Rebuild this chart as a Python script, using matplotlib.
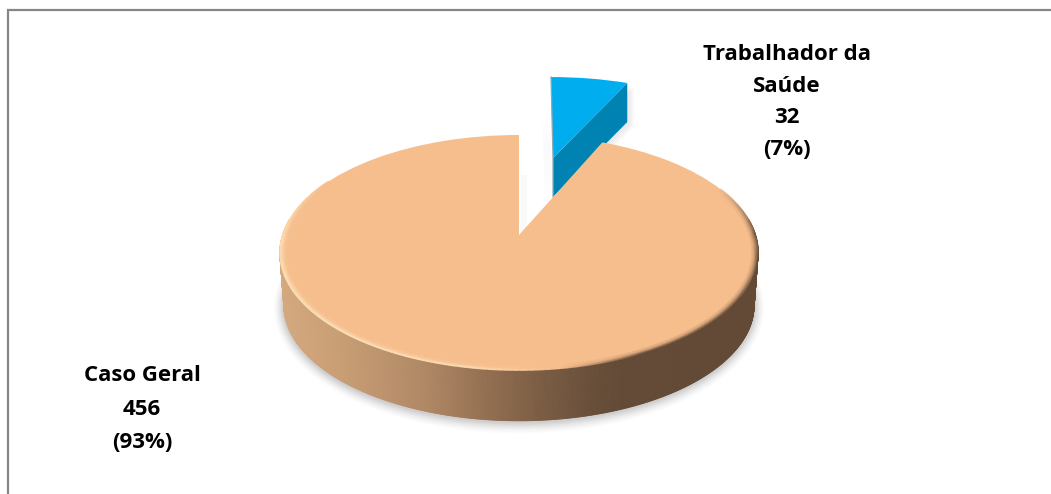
import numpy as np
import matplotlib
matplotlib.use("Agg")
import matplotlib.pyplot as plt
from matplotlib.collections import PolyCollection, LineCollection
from matplotlib.transforms import Transform
from matplotlib.patches import Polygon

categories = ["Caso Geral", "Trabalhador da\nSaúde"]
values = [456, 32]
percents = [93, 7]

W, H = 1051, 494
plt.rcParams['font.family'] = ['Open Sans', 'DejaVu Sans']


class Disc(Transform):
    """Perspective view of the unit pie disc, in pixel coordinates."""
    input_dims = output_dims = 2
    is_separable = False
    has_inverse = False

    def __init__(self, cx, cy, sx, sy, k=0.149, shear=0.0):
        super().__init__()
        self.p = (cx, cy, sx, sy, k, shear)

    def transform_non_affine(self, v):
        v = np.asarray(v, float)
        cx, cy, sx, sy, k, shear = self.p
        d = 1 + k * v[:, 1]
        return np.column_stack([cx + (sx * v[:, 0] + shear * v[:, 1]) / d, cy - sy * v[:, 1] / d])


def pts(tf, theta):
    t = np.radians(theta)
    return tf.transform_non_affine(np.column_stack([np.cos(t), np.sin(t)]))


def soft(ax, poly, dx, dy, n=6, alpha=.05, z=3):
    """Stack of shifted copies that reads as a soft cast shadow."""
    poly = np.asarray(poly, float)
    for i in range(1, n + 1):
        f = i / n
        ax.add_patch(Polygon(poly + [dx * f, dy * f], closed=True, fc='#707070', ec='none',
                             alpha=alpha, zorder=z))


fig = plt.figure(figsize=(W / 100, H / 100), dpi=100, facecolor='white')
ax = fig.add_axes([0, 0, 1, 1])

wedges, _ = ax.pie(values, startangle=90, counterclock=True,
                   colors=['#F6BD8D', '#00ADEF'], radius=1,
                   wedgeprops=dict(linewidth=0))
ax.set_aspect('auto')
ax.set_xlim(0, W)
ax.set_ylim(H, 0)
ax.axis('off')

main_top = Disc(519, 235, 236.5, 114.9)
main_bot = Disc(519, 288, 232.5, 113.0)
blue_top = Disc(553, 158, 216, 93, shear=-2.3)
depth_blue = 39

peach, blue = wedges

# soft shadow under the pie (front half only)
for d, a in zip(np.arange(10, 0, -1.25), [.02, .03, .04, .05, .06, .07, .08, .09]):
    sh = Disc(519, 289, 232.5 + d, 113.0 + d)
    ax.add_patch(Polygon(pts(sh, np.linspace(172, 368, 300)), closed=True, fc='#808080',
                         ec='none', alpha=a, zorder=1))

# side wall: colour runs with the horizontal position
th = np.linspace(172, 368, 600)
top_arc, bot_arc = pts(main_top, th), pts(main_bot, th)
quads = [[top_arc[i], top_arc[i + 1], bot_arc[i + 1], bot_arc[i]] for i in range(len(th) - 1)]
stops_x = [280, 340, 427, 480, 543, 600, 625, 760]
stops = np.array([[213, 169, 127], [200, 158, 117], [175, 135, 100], [150, 113, 83],
                  [122, 92, 67], [102, 77, 56], [98, 74, 54], [98, 74, 54]]) / 255
mid = np.array([q[0][0] for q in quads])
cols = np.column_stack([np.interp(mid, stops_x, stops[:, i]) for i in range(3)])
ax.add_collection(PolyCollection(quads, facecolors=cols, edgecolors=cols, linewidths=.6, zorder=2))

# blue slice: cast shadow, cut wall, then top face
a0, a1 = blue.theta1, blue.theta2
corner, top_left = pts(blue_top, [a0, a1])
apex = blue_top.transform_non_affine(np.array([[0.0, 0.0]]))[0]
off = np.array([0, depth_blue])
wall = np.array([apex, corner, corner + off, apex + off])
soft(ax, wall, 7, 5, alpha=.025)
soft(ax, [top_left + [0, 41], apex + [0, 0], apex + off, top_left + [0, 60]], -8, 0, alpha=.03)
ax.add_patch(Polygon(wall, closed=True, fc='#0083B3', ec='none', zorder=4))
blue.set_transform(blue_top + ax.transData)
blue.set_zorder(5)
ax.plot(*np.array([top_left, apex, apex + off]).T, color='#8FA9B5', lw=.9, zorder=6)

# shadow cast in the gap of the large slice
soft(ax, [[519.5, 175], [520.5, 175], [520.5, 232], [519.5, 234]], 7, 0, alpha=.035)

# large slice top face
peach.set_transform(main_top + ax.transData)
peach.set_zorder(7)

# bevelled rim along the front edge
rim_light = np.array([255, 228, 186]) / 255
rim_dark = np.array([104, 78, 56]) / 255
face = np.array([246, 189, 141]) / 255
front = np.linspace(150, 385, 500)
fade = np.clip(np.minimum((front - 150) / 30, (385 - front) / 25), 0, 1)
for scale, lw, strength in [(.998, 1.6, 1.0), (.991, 1.6, .7), (.984, 1.6, .4), (.977, 1.6, .15)]:
    tf = Disc(519, 235, 236.5 * scale, 114.9 * scale)
    arc = pts(tf, front)
    segs = [[arc[i], arc[i + 1]] for i in range(len(arc) - 1)]
    xs = arc[:-1, 0]
    m = np.interp(xs, [280, 400, 470, 560, 640, 760], [1, 1, .9, .0, -1, -1])
    colr = []
    for v, fd in zip(m, fade[:-1]):
        c = face + (rim_light - face) * v if v > 0 else face + (rim_dark - face) * (-v)
        colr.append(face + (c - face) * strength * fd)
    ax.add_collection(LineCollection(segs, colors=colr, linewidths=lw, zorder=8))

# chart-area frame: the right and bottom sides are cut off in the reference
ax.plot([7.5, 7.5, W], [H, 10.5, 10.5], color='#868686', lw=1.6, zorder=0,
        solid_joinstyle='miter')

ax.text(787, 102, f"{categories[1]}\n{values[1]}\n({percents[1]}%)", ha='center', va='center',
        fontsize=16, fontweight='bold', color='black', linespacing=1.67, zorder=10)
ax.text(142, 409, f"{categories[0]}\n{values[0]}\n({percents[0]}%)", ha='center', va='center',
        fontsize=16, fontweight='bold', color='black', linespacing=1.79, zorder=10)

fig.savefig('out.png', dpi=100, facecolor='white')
